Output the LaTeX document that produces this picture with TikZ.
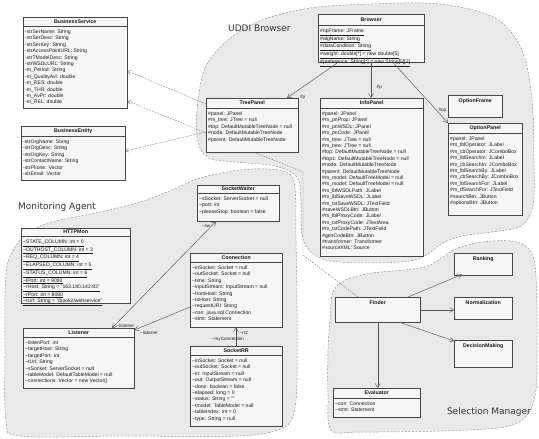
\documentclass[tikz,border=0pt]{standalone}
\usepackage{fontspec}
\setmainfont{Liberation Sans}
\newfontfamily\lblfont{DejaVu Sans}
\usetikzlibrary{arrows.meta,calc}
\pgfdeclarelayer{bg}
\pgfdeclarelayer{mid}
\pgfsetlayers{bg,mid,main}
\definecolor{boxc}{RGB}{70,70,70}
\definecolor{boxf}{RGB}{246,246,246}
\definecolor{blobf}{RGB}{233,233,233}
\definecolor{blobc}{RGB}{150,150,150}
\definecolor{linec}{RGB}{85,85,85}
\newcommand{\mytl}{\textasciitilde}
\tikzset{
  clsbox/.style={draw=boxc, fill=boxf, line width=0.45pt, inner sep=0pt, anchor=north west, rectangle},
  clstitle/.style={font=\fontsize{5.3}{6}\selectfont\bfseries, inner sep=0pt, text=black!90},
  clsattr/.style={font=\fontsize{5.1}{6.4}\selectfont, inner sep=0pt, anchor=north west, align=left, text=black!90},
  blob/.style={draw=blobc, fill=blobf, line width=0.5pt, dash pattern=on 2pt off 1.6pt},
  blobl/.style={font=\lblfont\fontsize{9}{10}\selectfont, inner sep=0pt, text=black!80},
  assoc/.style={draw=linec, line width=0.45pt, -{Straight Barb[length=4pt,width=5pt]}},
  biassoc/.style={draw=linec, line width=0.45pt, {Straight Barb[length=4pt,width=5pt]}-{Straight Barb[length=4pt,width=5pt]}},
  dep/.style={draw=linec!85, line width=0.4pt, dash pattern=on 1.5pt off 1.3pt, -{Straight Barb[length=3pt,width=4pt]}},
  lbl/.style={font=\fontsize{4.6}{5}\selectfont, inner sep=0.5pt, text=black!85}
}
\newcommand{\umlclass}[8]{%
  \node[clsbox, minimum width=#4pt, minimum height=#5pt] (#1) at (#2,#3) {};
  \node[clstitle] (#1-t) at ([yshift=-#7pt/2]#1.north) {#6};
  \draw[boxc, line width=0.45pt] ([yshift=-#7pt]#1.north west) -- ([yshift=-#7pt]#1.north east);
  \node[clsattr] (#1-a) at ([xshift=2pt,yshift=-#7pt-3.6pt]#1.north west) {#8};
}
\newcommand{\umlsimple}[6]{%
  \node[clsbox, minimum width=#4pt, minimum height=#5pt] (#1) at (#2,#3) {};
  \node[clstitle, anchor=north] (#1-t) at ([yshift=-3pt]#1.north) {#6};
}
\begin{document}
\begin{tikzpicture}[x=1pt,y=-1pt]
\begin{pgfonlayer}{bg}
\fill[white] (0,0) rectangle (539,429);
% regions
\draw[blob] plot[smooth cycle, tension=0.55] coordinates {(197,110) (205,68) (228,40) (262,20) (310,8) (370,4) (440,4) (495,18) (522,50) (532,100) (534,160) (533,205) (521,226) (492,232) (462,236) (441,244) (428,254) (410,261) (370,263) (330,261) (311,252) (302,235) (301,200) (297,177) (275,166) (235,162) (209,158) (198,142)};
\draw[blob] plot[smooth cycle, tension=0.55] coordinates {(8,262) (22,238) (45,224) (75,217) (105,211) (140,202) (172,190) (200,178) (240,170) (278,170) (294,182) (296,240) (297,310) (297,380) (294,412) (283,428) (240,436) (120,436) (20,436) (6,420) (5,350) (5,295)};
\draw[blob] plot[smooth cycle, tension=0.55] coordinates {(330,320) (333,292) (346,280) (372,273) (405,270) (428,266) (443,257) (458,248) (482,242) (510,241) (527,247) (535,265) (537,310) (537,355) (536,390) (528,414) (505,427) (440,431) (360,432) (331,430) (328,395) (328,350)};
\end{pgfonlayer}
\useasboundingbox (0,0) rectangle (539,429);

\node[blobl, anchor=west] (lu) at (228,28) {UDDI Browser};
\node[blobl, anchor=west] (lm) at (18,207) {Monitoring Agent};
\node[blobl, anchor=east] (lsm) at (531,412) {Selection Manager};

% classes
\umlclass{bs}{23}{17}{104}{91}{BusinessService}{9}{-strSerName: String\\-strSerDesc: String\\-strSerKey: String\\-strAccessPointURL: String\\-strTModelDesc: String\\-strWSDLURL: String\\-m\_Period: String\\-m\_QualityAvl: double\\-m\_RES: double\\-m\_THR: double\\-m\_AvPr: double\\-m\_REL: double}

\umlclass{be}{21}{126}{104}{54}{BusinessEntity}{10}{-strOrgName: String\\-strOrgDesc: String\\-strOrgKey: String\\-strContactName: String\\-strPhone: Vector\\-strEmail: Vector}

\umlclass{br}{318}{14}{106}{48}{Browser}{11}{\underline{\#opFrame: JFrame}\\\underline{\#algName: String}\\\underline{\#dataCondition: String}\\\underline{\#weight: double[*] = new double[5]}\\\underline{\#preference: String[*] = new String[5][2]}}

\umlclass{tp}{206}{98}{92}{54}{TreePanel}{10}{\#panel: JPanel\\\#m\_tree: JTree = null\\\#top: DefaultMutableTreeNode = null\\\#node: DefaultMutableTreeNode\\\#parent: DefaultMutableTreeNode}

\umlclass{ip}{320}{98}{103}{158}{InfoPanel}{10}{\#panel: JPanel\\\#m\_pnProp: JPanel\\\#m\_pnWSDL: JPanel\\\#m\_pnCode: JPanel\\\#m\_tree: JTree = null\\\#m\_tree: JTree = null\\\#top: DefaultMutableTreeNode = null\\\#top1: DefaultMutableTreeNode = null\\\#node: DefaultMutableTreeNode\\\#parent: DefaultMutableTreeNode\\\#m\_model: DefaultTreeModel = null\\\#m\_model: DefaultTreeModel = null\\\#m\_lblWSDLPath: JLabel\\\#m\_lblSaveWSDL: JLabel\\\#m\_txtSaveWSDL: JTextField\\\#saveWSDLBtn: JButton\\\#m\_lblProxyCode: JLabel\\\#m\_txtProxyCode: JTextArea\\\#m\_txtCodePath: JTextField\\\#genCodeBtn: JButton\\\#transformer: Transformer\\\#sourceXML: Source}

\umlsimple{of}{448}{95}{54}{22}{OptionFrame}

\umlclass{op}{448}{123}{74}{92}{OptionPanel}{10}{\#panel: JPanel\\\#m\_lblOperator: JLabel\\\#m\_cbOperator: JComboBox\\\#m\_lblSearchIn: JLabel\\\#m\_cbSearchIn: JComboBox\\\#m\_lblSearchBy: JLabel\\\#m\_cbSearchBy: JComboBox\\\#m\_lblSearchFor: JLabel\\\#m\_tfSearchFor: JTextField\\\#searchBtn: JButton\\\#optionsBtn: JButton}

\umlclass{hm}{21}{228}{109}{75}{HTTPMon}{8}{\underline{\mytl STATE\_COLUMN: int = 0}\\\underline{\mytl OUTHOST\_COLUMN: int = 3}\\\underline{\mytl REQ\_COLUMN: int = 4}\\\underline{\mytl ELAPSED\_COLUMN: int = 5}\\\underline{\mytl STATUS\_COLUMN: int = 6}\\\underline{\mytl lPort: int = 9092}\\\underline{\mytl rHost: String = "163.180.142.83"}\\\underline{\mytl rPort: int = 8080}\\\underline{\mytl tUrl: String = "/book2/webservice"}}

\umlclass{ls}{23}{328}{111}{60}{Listener}{9}{\mytl listenPort: int\\\mytl targetHost: String\\\mytl targetPort: int\\\mytl tUrl: String\\\mytl sSocket: ServerSocket = null\\\mytl tableModel: DefaultTableModel = null\\\mytl connections: Vector = new Vector()}

\umlclass{sw}{197}{185}{82}{36}{SocketWaiter}{8}{\mytl sSocket: ServerSocket = null\\\mytl port: int\\\mytl pleaseStop: boolean = false}

\umlclass{cn}{190}{253}{92}{74}{Connection}{9}{\mytl inSocket: Socket = null\\\mytl outSocket: Socket = null\\\mytl time: String\\\mytl inputStream: InputStream = null\\\mytl fromHost: String\\\mytl toHost: String\\\mytl requestURI: String\\\mytl con: java.sql.Connection\\\mytl stmt: Statement}

\umlclass{rr}{190}{346}{92}{80}{SocketRR}{9}{\mytl inSocket: Socket = null\\\mytl outSocket: Socket = null\\\mytl in: InputStream = null\\\mytl out: OutputStream = null\\\mytl done: boolean = false\\\mytl elapsed: long = 0\\\mytl status: String = ""\\\mytl tmodel: TableModel = null\\\mytl tableIndex: int = 0\\\mytl type: String = null}

\umlsimple{fd}{335}{297}{85}{25}{Finder}
\umlclass{ev}{333}{388}{87}{29}{Evaluator}{10}{\mytl con: Connection\\\mytl stmt: Statement}
\umlsimple{rk}{454}{253}{58}{22}{Ranking}
\umlsimple{nm}{454}{297}{58}{22}{Normalization}
\umlsimple{dm}{454}{340}{58}{27}{DecisionMaking}

% dependencies (behind the classes)
\coordinate (d1) at (303,255);
\coordinate (d2) at (303,172);
\begin{pgfonlayer}{mid}
\draw[dep] ([yshift=-6pt]tp.north west) -- ([yshift=-54pt]bs.north east);
\draw[dep] ([yshift=-34pt]tp.north west) -- ([yshift=-25pt]be.north east);
\draw[dep] ([xshift=23pt]fd.north west) -- (d1) -- (d2) -- ([yshift=-84pt]bs.north east);
\end{pgfonlayer}

% connectors UDDI
\draw[assoc] ([xshift=20pt]br.south west) -- ([xshift=81pt]tp.north west);
\draw[assoc] ([xshift=53pt]br.south west) -- ([xshift=51pt]ip.north west);
\draw[assoc] ([xshift=75pt]br.south west) -- (op.north west);
\node[lbl, anchor=west] (p1) at ([xshift=1pt,yshift=1pt]tp.north east) {\#p};
\node[lbl, anchor=west] (p2) at ([xshift=56pt,yshift=11pt]ip.north west) {\#p};
\node[lbl, anchor=east] (p3) at ([xshift=-1pt,yshift=13pt]op.north west) {\#op};

% monitoring
\draw[biassoc] ([xshift=89pt]ls.north west) -- ([xshift=19pt]sw.south west);
\node[lbl, anchor=west] (l1) at ([xshift=93pt,yshift=2pt]ls.north west) {\mytl listener};
\node[lbl, anchor=east] (l2) at ([xshift=14pt,yshift=-5pt]sw.south west) {\mytl sw};
\draw[assoc] ([yshift=-54pt]cn.north west) -- ([yshift=-2pt]ls.north east);
\node[lbl, anchor=west] (l3) at ([xshift=5pt,yshift=-5pt]ls.north east) {\mytl listener};
\draw[assoc] ([xshift=46pt]rr.north west) -- ([xshift=46pt]cn.south west);
\node[lbl, anchor=west] (l4) at ([xshift=49pt,yshift=-5pt]cn.south west) {\mytl rr2};
\node[lbl] (l5) at ([xshift=38pt,yshift=-12pt]cn.south west) {\mytl myConnection};

% selection
\draw[assoc] ([xshift=73pt]fd.north west) -- ([xshift=8pt,yshift=1pt]rk.south west);
\draw[assoc] ([yshift=-13pt]fd.north east) -- ([yshift=-13pt]nm.north west);
\draw[assoc] ([xshift=65pt]fd.south west) -- ([yshift=-1pt]dm.north west);
\draw[assoc] (fd.south) -- (fd.south |- ev.north);
\end{tikzpicture}
\end{document}
